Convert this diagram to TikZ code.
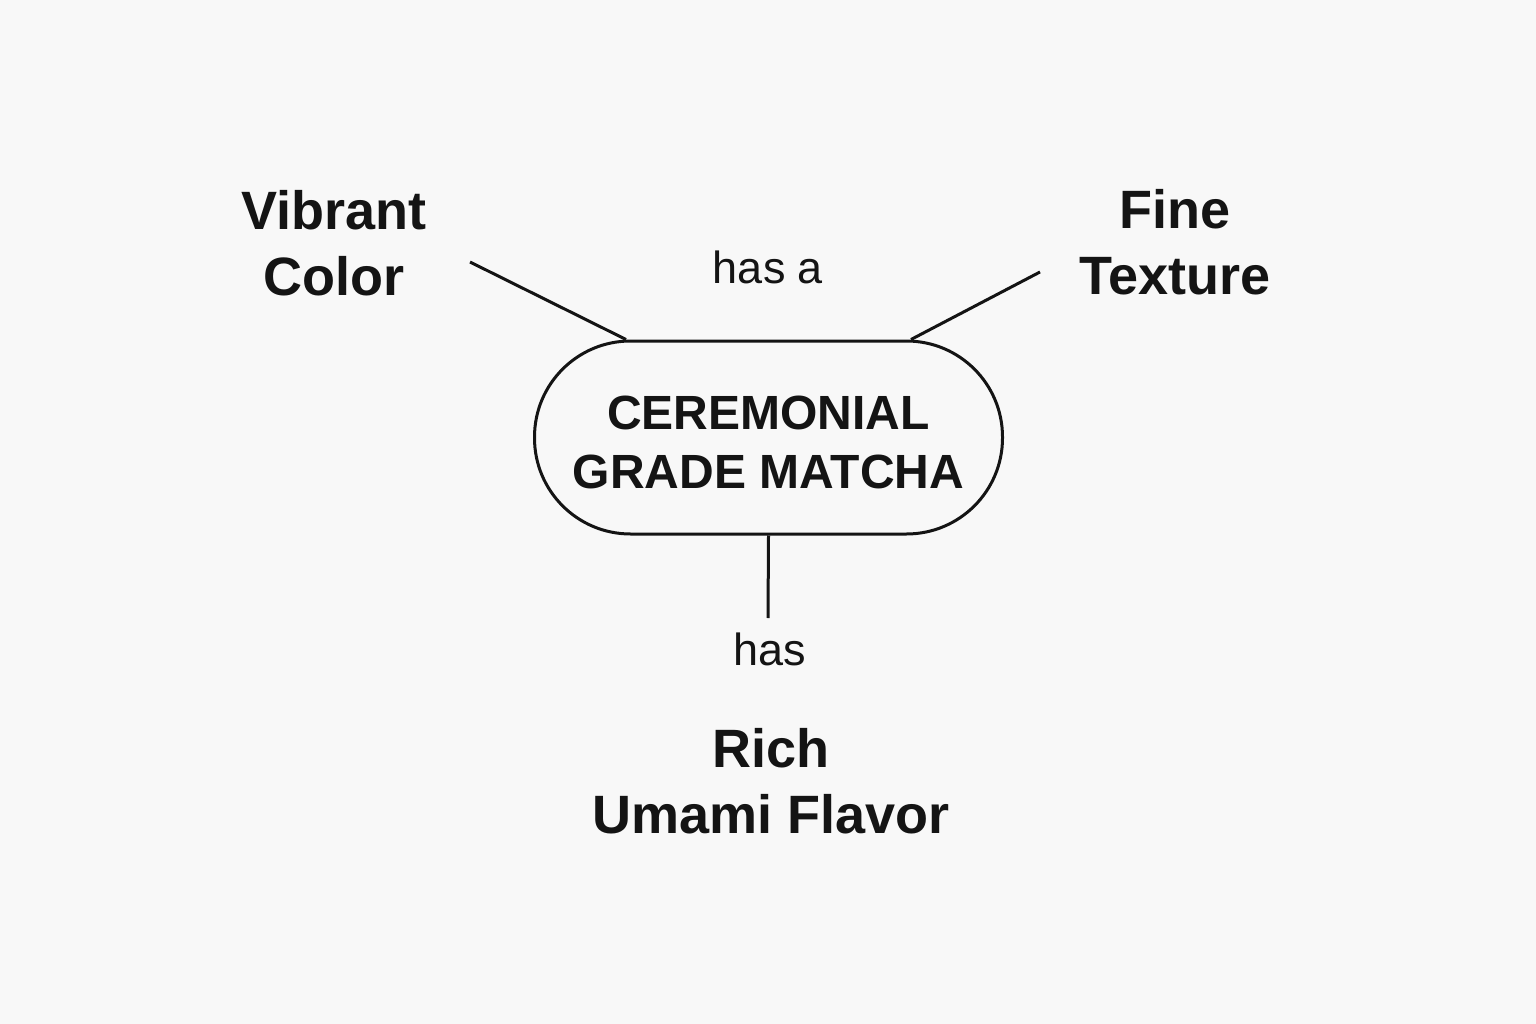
\documentclass[tikz,border=0pt]{standalone}
\usepackage{fontspec}
\setmainfont{Liberation Sans}
\definecolor{bgc}{HTML}{F8F8F8}
\definecolor{ink}{HTML}{141414}
\begin{document}
\begin{tikzpicture}[x=1pt,y=-1pt,
  label/.style={font=\fontsize{54}{66}\selectfont\bfseries, text=ink, align=center, inner sep=0pt},
  rel/.style={font=\fontsize{45}{54}\selectfont, text=ink, inner sep=0pt},
  pill/.style={draw=ink, line width=3pt, rounded corners=96pt, minimum width=468pt, minimum height=193pt, inner sep=0pt,
     font=\fontsize{48}{59}\selectfont\bfseries, text=ink, align=center},
  link/.style={draw=ink, line width=3pt}]
\fill[bgc] (0,0) rectangle (1536,1024);
\useasboundingbox (0,0) rectangle (1536,1024);

\node[pill] (core) at (768.5,437.5) {\rule{0pt}{43pt}CEREMONIAL\\GRADE MATCHA};

\node[label] (vib) at (334,243.5) {Vibrant\\Color};
\node[label] (fine) at (1175,242.5) {Fine\\Texture};
\node[label] (rich) at (771,781.5) {Rich\\Umami Flavor};
\node[rel] (hasa) at (768,267.5) {has a};
\node[rel] (has) at (770,649.5) {has};

\coordinate (vibend) at (470,262);
\coordinate (fineend) at (1040,272);
\coordinate (richend) at (768,618);

\draw[link] ([xshift=93pt]core.north west) -- (vibend);
\draw[link] ([xshift=-93pt]core.north east) -- (fineend);
\draw[link] (core.south) -- (richend);
\end{tikzpicture}
\end{document}
